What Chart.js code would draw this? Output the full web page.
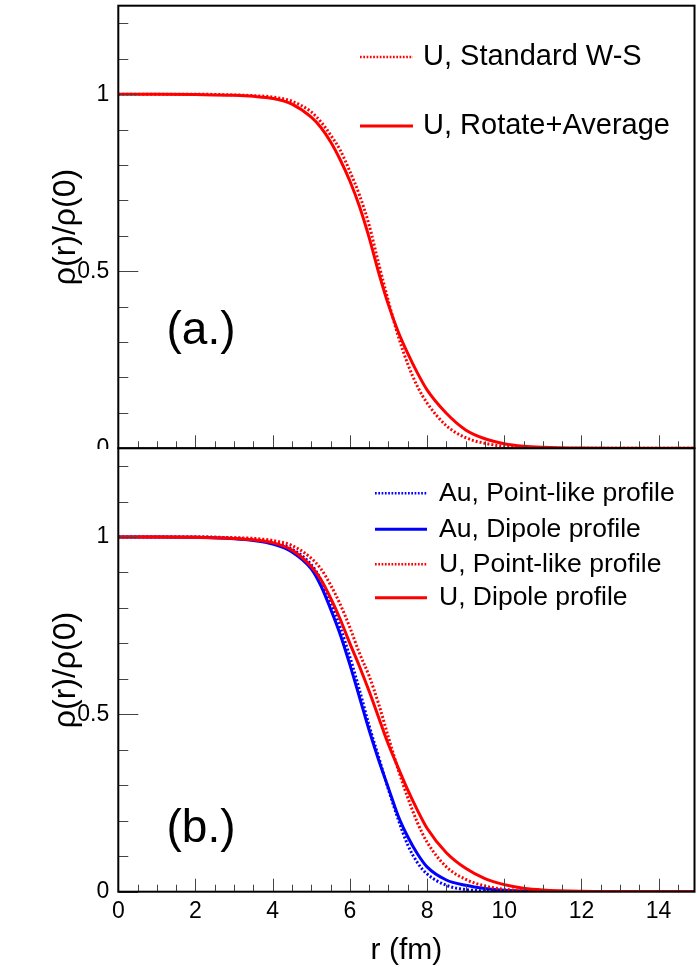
<!DOCTYPE html>
<html>
<head>
<meta charset="utf-8">
<script src="https://cdn.jsdelivr.net/npm/chart.js@4.4.1/dist/chart.umd.min.js"></script>
<style>
html,body{margin:0;padding:0;background:#fff;}
#wrap{position:relative;width:697px;height:967px;overflow:hidden;background:#fff;}
#c1{position:absolute;left:0;top:0;}
#c2{position:absolute;left:0;top:440px;}
</style>
</head>
<body>
<div id="wrap">
<canvas id="c1" width="697" height="449"></canvas>
<canvas id="c2" width="697" height="527"></canvas>
</div>
<script>
// ---------------- data ----------------
const radius = [0, 1, 2, 3, 3.5, 4, 4.5, 5, 5.25, 5.5, 5.75, 6, 6.25, 6.5, 6.75, 7, 7.25, 7.5, 7.75, 8, 8.5, 9, 9.5, 10, 10.5, 11, 12, 13, 14, 15];

// panel (a.)
const uStandardWS    = [1.000, 1.000, 1.000, 0.998, 0.996, 0.992, 0.980, 0.950, 0.922, 0.885, 0.842, 0.782, 0.715, 0.630, 0.520, 0.415, 0.318, 0.238, 0.175, 0.128, 0.064, 0.030, 0.014, 0.006, 0.003, 0.001, 0.0002, 0, 0, 0];
const uRotateAverage = [1.000, 1.000, 0.999, 0.997, 0.994, 0.988, 0.972, 0.935, 0.906, 0.866, 0.815, 0.755, 0.683, 0.595, 0.495, 0.405, 0.330, 0.268, 0.213, 0.165, 0.099, 0.052, 0.027, 0.013, 0.006, 0.003, 0.0007, 0.0002, 0, 0];

// panel (b.)
const auPointLike = [1.000, 1.000, 1.000, 0.997, 0.993, 0.985, 0.966, 0.922, 0.879, 0.816, 0.745, 0.662, 0.568, 0.468, 0.378, 0.288, 0.205, 0.132, 0.082, 0.050, 0.018, 0.006, 0.002, 0.0008, 0.0003, 0.0001, 0, 0, 0, 0];
const auDipole    = [1.000, 1.000, 0.999, 0.995, 0.990, 0.980, 0.958, 0.910, 0.862, 0.797, 0.725, 0.640, 0.548, 0.455, 0.370, 0.292, 0.214, 0.155, 0.107, 0.070, 0.033, 0.018, 0.009, 0.004, 0.002, 0.001, 0.0002, 0, 0, 0];
const uPointLike  = [1.000, 1.000, 1.000, 0.998, 0.996, 0.990, 0.976, 0.940, 0.910, 0.865, 0.810, 0.745, 0.672, 0.608, 0.528, 0.435, 0.345, 0.265, 0.195, 0.140, 0.070, 0.035, 0.016, 0.007, 0.003, 0.0013, 0.0002, 0, 0, 0];
const uDipole     = [1.000, 1.000, 0.999, 0.996, 0.992, 0.984, 0.963, 0.917, 0.880, 0.828, 0.768, 0.700, 0.635, 0.565, 0.490, 0.415, 0.350, 0.287, 0.230, 0.179, 0.110, 0.066, 0.037, 0.020, 0.010, 0.005, 0.0012, 0.0003, 0.0001, 0];

const labelsA = ['U, Standard W-S', 'U, Rotate+Average'];
const labelsB = ['Au, Point-like profile', 'Au, Dipole profile', 'U, Point-like profile', 'U, Dipole profile'];
const panelLabels = ['(a.)', '(b.)'];
const xTickValues = [0, 2, 4, 6, 8, 10, 12, 14];
const yTickValues = [0, 0.5, 1];
const xTitle = 'r (fm)';
const yTitle = 'ρ(r)/ρ(0)';

// ---------------- styling ----------------
const FONT = '"Liberation Sans", Arial, Helvetica, sans-serif';
const RED = '#ff0000', BLUE = '#0000ff';
const DOT = [2, 2];

function pts(arr) { return radius.map((r, i) => ({x: r, y: arr[i]})); }
function ds(label, arr, color, dotted, order) {
  return {
    label, data: pts(arr), borderColor: color, backgroundColor: color,
    borderWidth: 3, borderDash: dotted ? DOT : [], order,
    pointRadius: 0, fill: false, cubicInterpolationMode: 'monotone'
  };
}

const decor = {
  id: 'decor',
  afterDatasetsDraw(chart, args, o) {
    const {ctx, chartArea: a, scales: {x, y}} = chart;
    ctx.save();
    // inward ticks
    ctx.strokeStyle = '#444';
    ctx.lineWidth = 1;
    ctx.beginPath();
    for (let i = 0; i <= 29; i++) {
      const v = i * 0.5;
      const px = Math.round(x.getPixelForValue(v)) + 0.5;
      const len = (i % 4 === 0) ? o.xMajor : o.xMinor;
      ctx.moveTo(px, a.bottom);
      ctx.lineTo(px, a.bottom - len);
    }
    for (let i = 0; i <= 12; i++) {
      const v = i * 0.1;
      const py = Math.round(y.getPixelForValue(v)) + 0.5;
      const len = (i % 5 === 0) ? 20 : 10;
      ctx.moveTo(a.left, py);
      ctx.lineTo(a.left + len, py);
    }
    ctx.stroke();
    // frame
    ctx.strokeStyle = '#000';
    ctx.lineWidth = 2;
    ctx.strokeRect(a.left, a.top, a.right - a.left, a.bottom - a.top);
    // legend
    const L = o.legend;
    ctx.font = L.size + 'px ' + FONT;
    ctx.textBaseline = 'middle';
    ctx.textAlign = 'left';
    chart.data.datasets.forEach((d, i) => {
      const yy = L.rows[i];
      ctx.beginPath();
      ctx.strokeStyle = d.borderColor;
      ctx.lineWidth = d.borderDash.length ? 2.4 : 3;
      ctx.setLineDash(d.borderDash.length ? [1.7, 1.6] : []);
      ctx.moveTo(L.x0, yy);
      ctx.lineTo(L.x1, yy);
      ctx.stroke();
      ctx.setLineDash([]);
      ctx.fillStyle = '#000';
      ctx.fillText(d.label, L.tx, yy);
    });
    // panel label
    const P = o.panel;
    ctx.font = P.size + 'px ' + FONT;
    ctx.textAlign = 'center';
    ctx.fillStyle = '#000';
    ctx.fillText(P.text, P.x, P.y);
    ctx.restore();
  }
};

function makeChart(canvas, datasets, cfg) {
  return new Chart(canvas, {
    type: 'line',
    data: {datasets},
    options: {
      responsive: false, animation: false, devicePixelRatio: 1,
      layout: {padding: {top: cfg.padTop, right: 2.5, left: 0, bottom: 0}},
      plugins: {legend: {display: false}, tooltip: {enabled: false}, decor: cfg.decor},
      scales: {
        x: {
          type: 'linear', min: 0, max: 14.93,
          grid: {display: false, drawTicks: false, tickLength: 0},
          border: {display: false},
          afterBuildTicks: s => { s.ticks = xTickValues.map(v => ({value: v})); },
          ticks: {display: cfg.showX, padding: 6, color: '#000', font: {family: FONT, size: 23}, callback: v => String(v)},
          title: {display: cfg.showX, text: xTitle, color: '#000', font: {family: FONT, size: 30, lineHeight: 1}, padding: {top: 0, bottom: 1}},
          afterFit: s => { s.height = cfg.xHeight; s.paddingLeft = 0; s.paddingRight = 0; }
        },
        y: {
          type: 'linear', min: 0, max: 1.25,
          grid: {display: false, drawTicks: false, tickLength: 0},
          border: {display: false},
          afterBuildTicks: s => { s.ticks = yTickValues.map(v => ({value: v})); },
          ticks: {padding: 9, color: '#000', font: {family: FONT, size: 23}, callback: v => String(v)},
          title: {display: true, text: yTitle, color: '#000', font: {family: FONT, size: 32, lineHeight: 1}, padding: {top: 50, bottom: 0}},
          afterFit: s => { s.width = 118.3; s.paddingTop = 0; s.paddingBottom = 0; }
        }
      }
    },
    plugins: [decor]
  });
}

makeChart(document.getElementById('c1'), [
  ds(labelsA[0], uStandardWS, RED, true, 1),
  ds(labelsA[1], uRotateAverage, RED, false, 0)
], {
  padTop: 5.7, xHeight: 0.7, showX: false,
  decor: {
    xMajor: 13, xMinor: 7,
    legend: {size: 29, x0: 360, x1: 413, tx: 423, rows: [57, 126]},
    panel: {text: panelLabels[0], x: 201, y: 331, size: 46}
  }
});

makeChart(document.getElementById('c2'), [
  ds(labelsB[0], auPointLike, BLUE, true, 3),
  ds(labelsB[1], auDipole, BLUE, false, 2),
  ds(labelsB[2], uPointLike, RED, true, 1),
  ds(labelsB[3], uDipole, RED, false, 0)
], {
  padTop: 8.3, xHeight: 75.3, showX: true,
  decor: {
    xMajor: 13, xMinor: 7,
    legend: {size: 26.5, x0: 375, x1: 427, tx: 439, rows: [53.3, 89.3, 124.3, 157.7]},
    panel: {text: panelLabels[1], x: 201, y: 389, size: 46}
  }
});
</script>
</body>
</html>
